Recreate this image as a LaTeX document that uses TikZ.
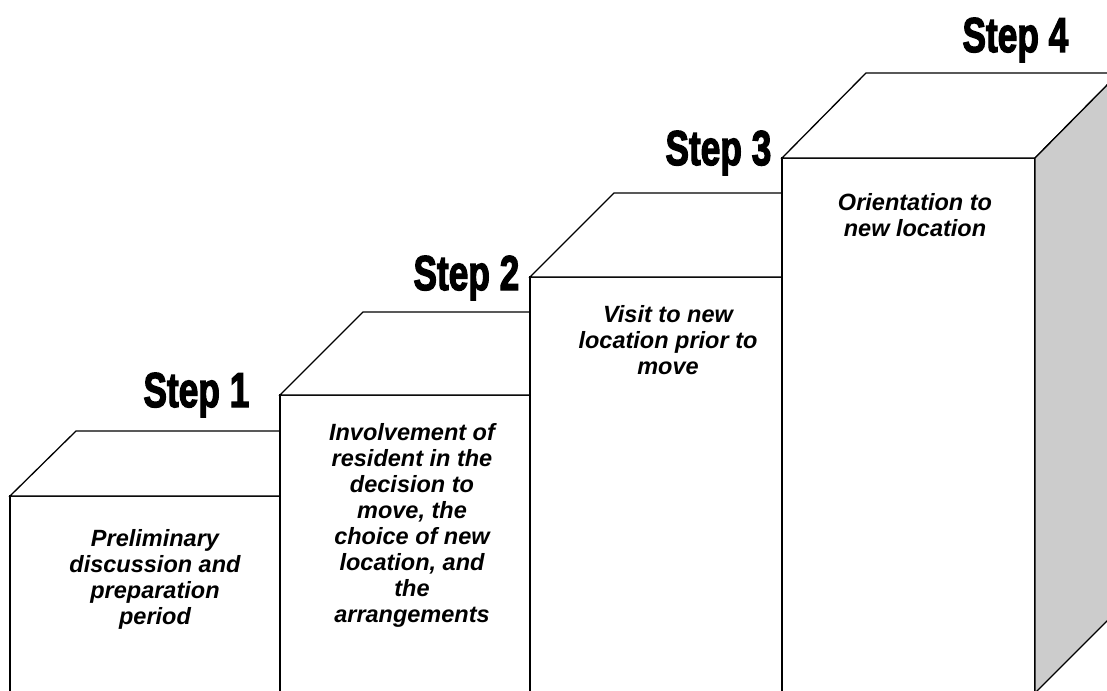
\documentclass[tikz,border=0pt]{standalone}
\usepackage{graphicx}
\usepackage{fontspec}
\newfontfamily\stepfont[BoldFeatures={FakeBold=3}]{Liberation Sans}
\newfontfamily\bodyfont{Liberation Sans}
\definecolor{sidegray}{HTML}{CCCCCC}
\begin{document}
\begin{tikzpicture}[x=1pt,y=-1pt,line width=1.3pt,line join=miter,
  face/.style={draw=black,fill=white},
  side/.style={draw=black,fill=sidegray},
  steplabel/.style={anchor=base east,inner sep=0pt,font=\stepfont\bfseries\fontsize{49}{50}\selectfont},
  boxtext/.style={anchor=north,inner sep=0pt,align=center,font=\bodyfont\bfseries\itshape\fontsize{23.5}{26}\selectfont}]
\useasboundingbox (0,0) rectangle (1107,690);
\clip (0,0) rectangle (1107,690);
% Box 1
\draw[face] (10,496) rectangle (280,705);
\draw[face] (10,496) -- (76,431) -- (346,431) -- (280,496) -- cycle;
% Box 2
\draw[face] (280,395) rectangle (530,705);
\draw[face] (280,395) -- (363,312) -- (614,312) -- (530,395) -- cycle;
% Box 3
\draw[face] (530,277) rectangle (782,705);
\draw[face] (530,277) -- (614,193) -- (866,193) -- (782,277) -- cycle;
% Box 4
\draw[face] (782,158) rectangle (1035,693);
\draw[face] (782,158) -- (866,73) -- (1119,73) -- (1035,158) -- cycle;
\draw[side] (1035,158) -- (1119,73) -- (1119,609) -- (1035,693) -- cycle;
% labels
\node[steplabel] (s1) at (250,407) {\scalebox{0.72}[1]{Step 1}};
\node[steplabel] (s2) at (520,290) {\scalebox{0.72}[1]{Step 2}};
\node[steplabel] (s3) at (772,165) {\scalebox{0.72}[1]{Step 3}};
\node[steplabel] (s4) at (1069,52) {\scalebox{0.72}[1]{Step 4}};
% texts
\node[boxtext] (t1) at (155,529) {Preliminary\\discussion and\\preparation\\period};
\node[boxtext] (t2) at (412,423) {Involvement of\\resident in the\\decision to\\move, the\\choice of new\\location, and\\the\\arrangements};
\node[boxtext] (t3) at (668,305) {Visit to new\\location prior to\\move};
\node[boxtext] (t4) at (915,193) {Orientation to\\new location};
\end{tikzpicture}
\end{document}
